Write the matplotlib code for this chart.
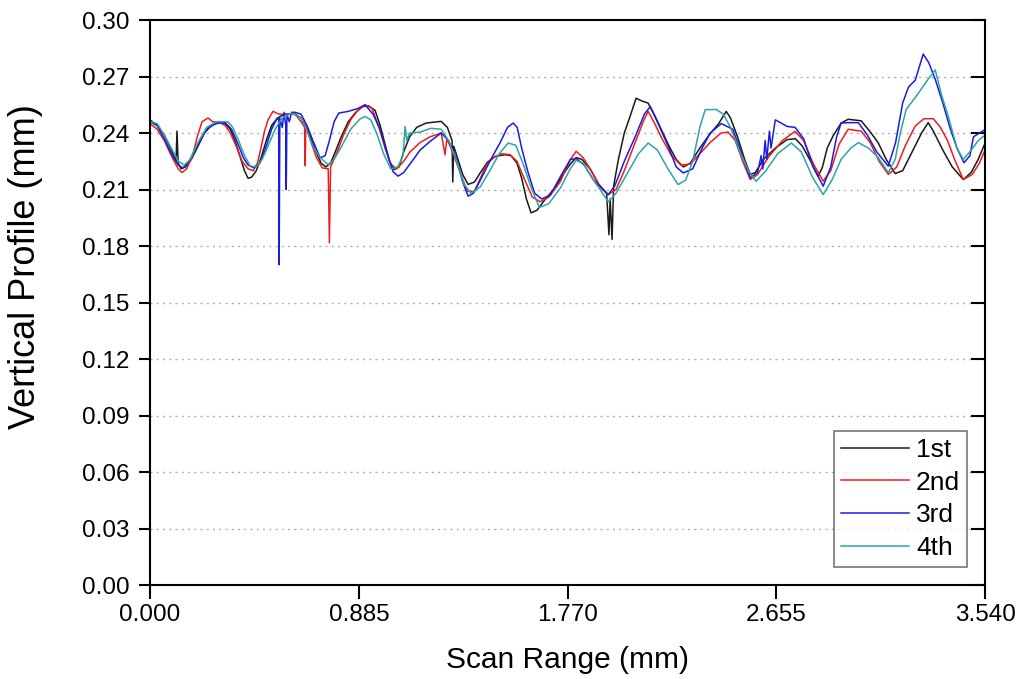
import numpy as np
import matplotlib.pyplot as plt

# -----------------------------
# Data (mm)
# -----------------------------
x_1st = [0.000, 0.030, 0.060, 0.090, 0.110, 0.114, 0.119, 0.131, 0.150, 0.175,
         0.203, 0.230, 0.260, 0.290, 0.318, 0.340, 0.360, 0.380, 0.400, 0.415,
         0.430, 0.450, 0.471, 0.495, 0.515, 0.540, 0.570, 0.615, 0.640, 0.670,
         0.700, 0.725, 0.745, 0.765, 0.785, 0.810, 0.840, 0.869, 0.900, 0.925,
         0.954, 0.975, 0.996, 1.015, 1.035, 1.055, 1.075, 1.100, 1.130, 1.170,
         1.234, 1.260, 1.280, 1.283, 1.287, 1.300, 1.325, 1.348, 1.375, 1.400,
         1.430, 1.463, 1.505, 1.530, 1.555, 1.575, 1.595, 1.615, 1.640, 1.670,
         1.717, 1.750, 1.781, 1.806, 1.830, 1.865, 1.900, 1.935, 1.945, 1.950,
         1.958, 1.965, 1.985, 2.010, 2.035, 2.060, 2.085, 2.111, 2.140, 2.170,
         2.200, 2.230, 2.260, 2.290, 2.330, 2.370, 2.410, 2.442, 2.460, 2.490,
         2.520, 2.544, 2.565, 2.600, 2.650, 2.700, 2.735, 2.765, 2.800, 2.832,
         2.850, 2.870, 2.895, 2.929, 2.959, 3.014, 3.050, 3.086, 3.120, 3.158,
         3.190, 3.230, 3.270, 3.298, 3.320, 3.360, 3.400, 3.447, 3.480, 3.510,
         3.540]
y_1st = [0.246, 0.244, 0.239, 0.231, 0.225, 0.241, 0.224, 0.221, 0.222, 0.226,
         0.233, 0.240, 0.244, 0.2455, 0.245, 0.242, 0.236, 0.228, 0.220, 0.216,
         0.2165, 0.220, 0.227, 0.237, 0.244, 0.248, 0.250, 0.250, 0.248, 0.241,
         0.231, 0.224, 0.222, 0.224, 0.230, 0.238, 0.246, 0.2506, 0.254, 0.2545,
         0.252, 0.244, 0.234, 0.225, 0.2206, 0.222, 0.230, 0.238, 0.243, 0.2453,
         0.2462, 0.243, 0.236, 0.214, 0.233, 0.228, 0.218, 0.2127, 0.214, 0.219,
         0.2245, 0.2276, 0.2285, 0.228, 0.224, 0.216, 0.205, 0.1976, 0.199, 0.204,
         0.211, 0.218, 0.2235, 0.227, 0.226, 0.221, 0.213, 0.208, 0.186, 0.205,
         0.1835, 0.212, 0.226, 0.240, 0.249, 0.2585, 0.257, 0.2559, 0.249, 0.241,
         0.233, 0.226, 0.222, 0.224, 0.232, 0.239, 0.245, 0.2515, 0.248, 0.238,
         0.226, 0.218, 0.219, 0.226, 0.232, 0.2365, 0.237, 0.233, 0.225, 0.217,
         0.222, 0.232, 0.2385, 0.2453, 0.2473, 0.2465, 0.241, 0.2349, 0.226, 0.2185,
         0.220, 0.230, 0.240, 0.2455, 0.241, 0.231, 0.222, 0.2153, 0.219, 0.226,
         0.2349]

x_2nd = [0.000, 0.030, 0.060, 0.090, 0.119, 0.135, 0.155, 0.180, 0.200, 0.220,
         0.246, 0.265, 0.290, 0.318, 0.340, 0.365, 0.390, 0.415, 0.437, 0.455,
         0.470, 0.485, 0.500, 0.521, 0.547, 0.585, 0.615, 0.640, 0.655, 0.657,
         0.660, 0.680, 0.705, 0.730, 0.755, 0.760, 0.765, 0.790, 0.820, 0.850,
         0.880, 0.911, 0.941, 0.970, 0.996, 1.020, 1.045, 1.075, 1.102, 1.145,
         1.187, 1.234, 1.250, 1.258, 1.285, 1.314, 1.345, 1.375, 1.400, 1.425,
         1.455, 1.490, 1.526, 1.555, 1.585, 1.620, 1.654, 1.690, 1.738, 1.781,
         1.806, 1.835, 1.870, 1.910, 1.942, 1.975, 2.010, 2.050, 2.090, 2.111,
         2.135, 2.170, 2.210, 2.250, 2.290, 2.330, 2.374, 2.420, 2.450, 2.480,
         2.515, 2.544, 2.575, 2.620, 2.680, 2.734, 2.770, 2.810, 2.853, 2.885,
         2.920, 2.959, 3.014, 3.052, 3.090, 3.129, 3.165, 3.200, 3.243, 3.280,
         3.320, 3.350, 3.380, 3.410, 3.447, 3.485, 3.515, 3.540]
y_2nd = [0.245, 0.242, 0.236, 0.228, 0.221, 0.219, 0.221, 0.228, 0.238, 0.246,
         0.248, 0.246, 0.246, 0.244, 0.240, 0.233, 0.225, 0.221, 0.220, 0.224,
         0.232, 0.241, 0.247, 0.2515, 0.250, 0.250, 0.250, 0.246, 0.243, 0.2227,
         0.244, 0.236, 0.227, 0.2215, 0.221, 0.1818, 0.222, 0.229, 0.239, 0.247,
         0.252, 0.255, 0.253, 0.243, 0.232, 0.2235, 0.221, 0.225, 0.230, 0.235,
         0.238, 0.240, 0.2285, 0.237, 0.229, 0.219, 0.209, 0.209, 0.216, 0.223,
         0.227, 0.229, 0.2285, 0.225, 0.216, 0.206, 0.2035, 0.206, 0.214, 0.2259,
         0.2303, 0.227, 0.220, 0.211, 0.2073, 0.210, 0.220, 0.233, 0.246, 0.2515,
         0.246, 0.237, 0.228, 0.223, 0.2235, 0.229, 0.235, 0.240, 0.2405, 0.236,
         0.224, 0.2153, 0.218, 0.227, 0.236, 0.2409, 0.236, 0.224, 0.2144, 0.220,
         0.234, 0.242, 0.241, 0.235, 0.225, 0.218, 0.222, 0.233, 0.2437, 0.2476,
         0.2476, 0.243, 0.236, 0.226, 0.2153, 0.218, 0.224, 0.2313]

x_3rd = [0.000, 0.030, 0.060, 0.090, 0.119, 0.140, 0.165, 0.203, 0.240, 0.276,
         0.318, 0.345, 0.370, 0.395, 0.415, 0.440, 0.465, 0.490, 0.515, 0.535,
         0.545, 0.547, 0.550, 0.560, 0.568, 0.575, 0.577, 0.580, 0.590, 0.600,
         0.615, 0.640, 0.665, 0.690, 0.721, 0.742, 0.760, 0.780, 0.800, 0.840,
         0.880, 0.911, 0.945, 0.975, 1.000, 1.030, 1.051, 1.075, 1.110, 1.145,
         1.187, 1.234, 1.265, 1.300, 1.325, 1.348, 1.370, 1.400, 1.440, 1.484,
         1.515, 1.539, 1.556, 1.575, 1.600, 1.630, 1.660, 1.696, 1.740, 1.781,
         1.806, 1.840, 1.880, 1.942, 1.970, 2.010, 2.056, 2.095, 2.120, 2.150,
         2.196, 2.230, 2.260, 2.300, 2.340, 2.374, 2.421, 2.470, 2.510, 2.544,
         2.575, 2.590, 2.597, 2.607, 2.614, 2.625, 2.632, 2.650, 2.700, 2.734,
         2.770, 2.810, 2.853, 2.885, 2.910, 2.929, 2.959, 3.002, 3.040, 3.080,
         3.129, 3.160, 3.190, 3.215, 3.243, 3.277, 3.300, 3.328, 3.360, 3.390,
         3.420, 3.450, 3.475, 3.490, 3.540]
y_3rd = [0.247, 0.244, 0.237, 0.229, 0.223, 0.2215, 0.225, 0.234, 0.242, 0.245,
         0.2456, 0.242, 0.235, 0.227, 0.223, 0.2215, 0.224, 0.232, 0.242, 0.247,
         0.248, 0.170, 0.248, 0.243, 0.251, 0.244, 0.210, 0.250, 0.246, 0.251,
         0.251, 0.250, 0.244, 0.236, 0.2268, 0.228, 0.236, 0.246, 0.2506, 0.2515,
         0.253, 0.255, 0.250, 0.242, 0.231, 0.2195, 0.2171, 0.219, 0.225, 0.231,
         0.2356, 0.240, 0.236, 0.226, 0.214, 0.2065, 0.208, 0.215, 0.225, 0.235,
         0.243, 0.2453, 0.243, 0.232, 0.220, 0.208, 0.205, 0.207, 0.217, 0.2259,
         0.2265, 0.223, 0.215, 0.2073, 0.212, 0.225, 0.238, 0.250, 0.2541, 0.246,
         0.233, 0.222, 0.2188, 0.221, 0.232, 0.240, 0.245, 0.242, 0.228, 0.2162,
         0.219, 0.228, 0.221, 0.236, 0.226, 0.241, 0.232, 0.247, 0.2435, 0.243,
         0.237, 0.222, 0.2118, 0.222, 0.238, 0.2453, 0.2455, 0.2455, 0.239, 0.230,
         0.2224, 0.235, 0.256, 0.2645, 0.268, 0.2819, 0.2775, 0.2685, 0.256, 0.243,
         0.232, 0.2242, 0.228, 0.238, 0.2419]

x_4th = [0.000, 0.030, 0.060, 0.090, 0.120, 0.145, 0.170, 0.203, 0.240, 0.280,
         0.330, 0.350, 0.375, 0.400, 0.425, 0.450, 0.475, 0.500, 0.530, 0.560,
         0.600, 0.640, 0.665, 0.690, 0.720, 0.755, 0.780, 0.810, 0.850, 0.890,
         0.911, 0.935, 0.960, 0.990, 1.020, 1.050, 1.072, 1.081, 1.088, 1.100,
         1.145, 1.190, 1.234, 1.265, 1.300, 1.330, 1.360, 1.400, 1.440, 1.480,
         1.518, 1.550, 1.580, 1.615, 1.650, 1.690, 1.740, 1.781, 1.806, 1.835,
         1.880, 1.942, 1.975, 2.020, 2.070, 2.111, 2.150, 2.195, 2.238, 2.270,
         2.300, 2.330, 2.353, 2.400, 2.430, 2.460, 2.500, 2.540, 2.569, 2.610,
         2.660, 2.718, 2.760, 2.810, 2.853, 2.890, 2.929, 2.970, 3.002, 3.045,
         3.086, 3.129, 3.158, 3.180, 3.205, 3.250, 3.298, 3.328, 3.355, 3.383,
         3.420, 3.447, 3.481, 3.510, 3.540]
y_4th = [0.246, 0.245, 0.239, 0.232, 0.225, 0.223, 0.226, 0.235, 0.243, 0.246,
         0.246, 0.243, 0.236, 0.228, 0.2225, 0.222, 0.226, 0.233, 0.242, 0.248,
         0.2505, 0.248, 0.241, 0.233, 0.227, 0.2232, 0.226, 0.2325, 0.242, 0.2475,
         0.2488, 0.247, 0.240, 0.229, 0.221, 0.222, 0.228, 0.2435, 0.236, 0.240,
         0.2405, 0.2425, 0.242, 0.236, 0.225, 0.213, 0.208, 0.2115, 0.220, 0.229,
         0.2347, 0.2335, 0.224, 0.211, 0.2005, 0.2025, 0.211, 0.221, 0.2255, 0.224,
         0.215, 0.2035, 0.208, 0.218, 0.229, 0.2347, 0.231, 0.221, 0.2126, 0.215,
         0.225, 0.243, 0.2524, 0.2525, 0.250, 0.243, 0.230, 0.219, 0.2144, 0.220,
         0.229, 0.2347, 0.230, 0.216, 0.2073, 0.215, 0.226, 0.232, 0.2349, 0.232,
         0.227, 0.219, 0.226, 0.240, 0.2526, 0.260, 0.2686, 0.2735, 0.260, 0.249,
         0.232, 0.226, 0.231, 0.236, 0.239]

labels = ["1st", "2nd", "3rd", "4th"]
colors = ["#1a1a1a", "#ee1c1c", "#1c1cdc", "#2aa6a6"]

x_ticks = [0.000, 0.885, 1.770, 2.655, 3.540]
y_ticks = [0.00, 0.03, 0.06, 0.09, 0.12, 0.15, 0.18, 0.21, 0.24, 0.27, 0.30]


# -----------------------------
# Plotting
# -----------------------------
plt.rcParams["font.family"] = ["Liberation Sans", "DejaVu Sans"]

fig = plt.figure(figsize=(10.21, 6.79), dpi=100)
ax = fig.add_axes([0.147, 0.1384, 0.818, 0.8321])

series = [(x_1st, y_1st), (x_2nd, y_2nd), (x_3rd, y_3rd), (x_4th, y_4th)]
for (xs, ys), lab, col in zip(series, labels, colors):
    ax.plot(xs, ys, color=col, lw=1.1, label=lab)

ax.set_xlim(0, 3.54)
ax.set_ylim(0, 0.30)
ax.set_xticks(x_ticks)
ax.set_xticklabels([f"{v:.3f}" for v in x_ticks])
ax.set_yticks(y_ticks)
ax.set_yticklabels([f"{v:.2f}" for v in y_ticks])

for y in y_ticks[1:-1]:
    ax.axhline(y, color="#b0b0b0", lw=1.0, ls=(0, (1.5, 3)), zorder=0)

ax.tick_params(axis="both", labelsize=17.5, width=1.5, colors="black")
ax.tick_params(axis="y", direction="out", length=8, right=True, pad=7)
ax.tick_params(axis="x", direction="out", length=10, pad=4)
# right side ticks point inwards
for t in ax.yaxis.get_major_ticks():
    t.tick2line.set_marker(0)
    t.tick2line.set_markersize(10)
for s in ax.spines.values():
    s.set_linewidth(1.5)

ax.set_xlabel("Scan Range (mm)", fontsize=21.5, labelpad=14)
ax.set_ylabel("Vertical Profile (mm)", fontsize=26)
ax.yaxis.set_label_coords(-0.128, 0.563)

leg = ax.legend(loc="lower right", fontsize=19, frameon=True, fancybox=False,
                handlelength=2.6, handletextpad=0.25, labelspacing=0.33,
                borderpad=0.25, borderaxespad=0.7)
leg.get_frame().set_edgecolor("#555555")
leg.get_frame().set_linewidth(1.2)

fig.savefig("out.png", dpi=100)
